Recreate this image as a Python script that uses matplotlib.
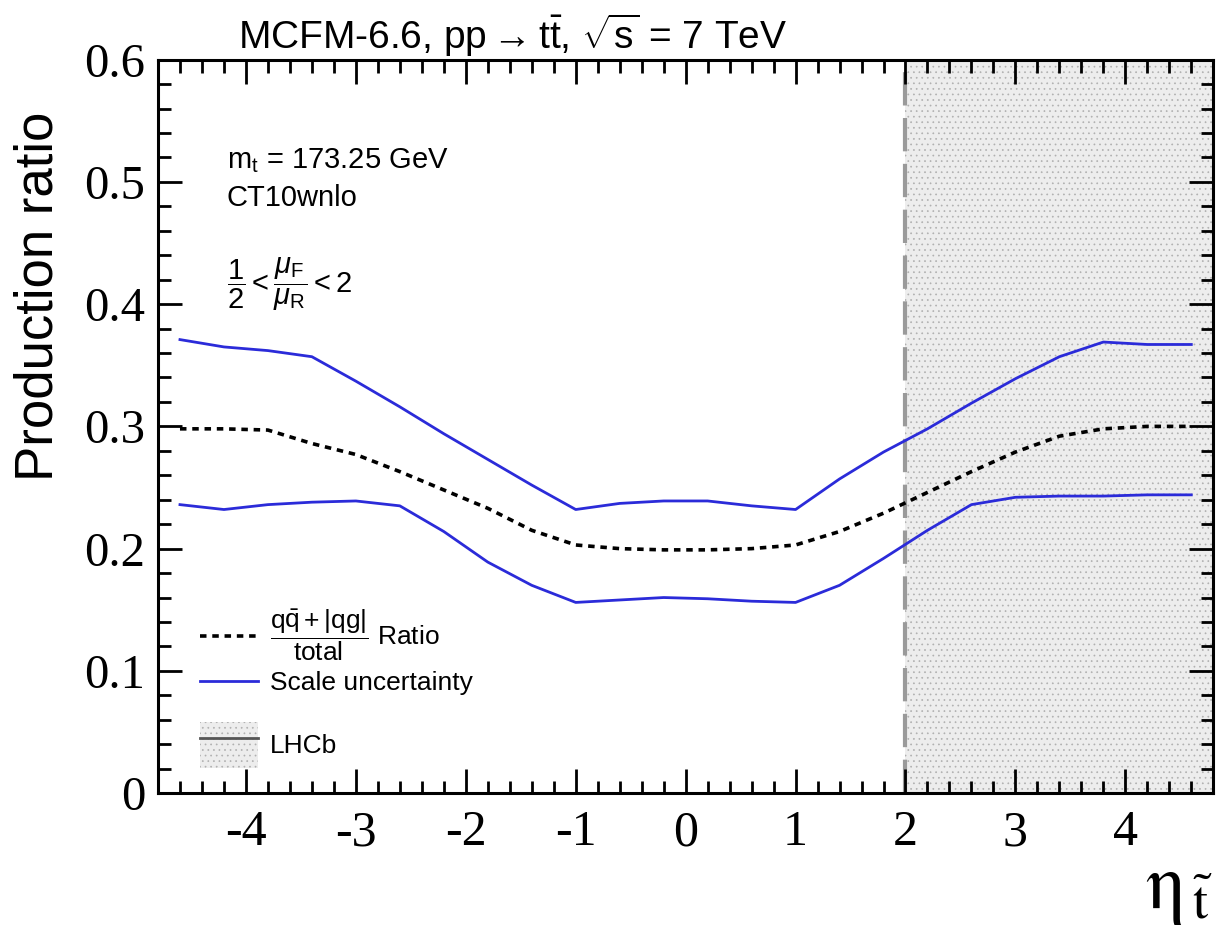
import matplotlib
matplotlib.use('Agg')
import matplotlib.pyplot as plt
from matplotlib.lines import Line2D
from matplotlib.patches import Patch
from matplotlib.legend_handler import HandlerTuple
from matplotlib.ticker import MultipleLocator

# values
eta = [-4.6, -4.2, -3.8, -3.4, -3.0, -2.6, -2.2, -1.8, -1.4, -1.0, -0.6, -0.2,
       0.2, 0.6, 1.0, 1.4, 1.8, 2.2, 2.6, 3.0, 3.4, 3.8, 4.2, 4.6]
ratio = [0.298, 0.298, 0.297, 0.286, 0.277, 0.263, 0.248, 0.233, 0.215, 0.203, 0.200, 0.199,
         0.199, 0.200, 0.203, 0.214, 0.229, 0.246, 0.263, 0.279, 0.292, 0.298, 0.300, 0.300]
scale_up = [0.371, 0.365, 0.362, 0.357, 0.337, 0.316, 0.294, 0.273, 0.252, 0.232, 0.237, 0.239,
            0.239, 0.235, 0.232, 0.257, 0.279, 0.298, 0.319, 0.339, 0.357, 0.369, 0.367, 0.367]
scale_down = [0.236, 0.232, 0.236, 0.238, 0.239, 0.235, 0.214, 0.189, 0.170, 0.156, 0.158, 0.160,
              0.159, 0.157, 0.156, 0.170, 0.192, 0.215, 0.236, 0.242, 0.243, 0.243, 0.244, 0.244]
lhcb_eta = [2.0, 4.8]

plt.rcParams['font.family'] = ['Liberation Sans', 'DejaVu Sans']
plt.rcParams['mathtext.fontset'] = 'custom'
plt.rcParams['mathtext.rm'] = 'Liberation Sans'
plt.rcParams['mathtext.it'] = 'Liberation Sans:italic'
plt.rcParams['mathtext.bf'] = 'Liberation Sans:bold'
plt.rcParams['hatch.linewidth'] = 0.5

blue = '#2b2bd9'

fig = plt.figure(figsize=(12.2, 9.32), dpi=100)
ax = fig.add_axes([0.1295, 0.149, 0.865, 0.787])

# LHCb acceptance band
ax.axvspan(lhcb_eta[0], lhcb_eta[1], facecolor='#ededed', edgecolor='#b0b0b0',
           hatch='...', lw=0, zorder=0)
ax.axvline(lhcb_eta[0], color='#9a9a9a', lw=3, ls=(0, (8, 3)), zorder=1)

ax.plot(eta, ratio, color='black', lw=2.6, ls=(0, (1.8, 1.6)), zorder=3)
ax.plot(eta, scale_up, color=blue, lw=2, zorder=3)
ax.plot(eta, scale_down, color=blue, lw=2, zorder=3)

ax.set_xlim(-4.8, 4.8)
ax.set_ylim(0, 0.6)
ax.xaxis.set_major_locator(MultipleLocator(1))
ax.xaxis.set_minor_locator(MultipleLocator(0.2))
ax.yaxis.set_major_locator(MultipleLocator(0.1))
ax.yaxis.set_minor_locator(MultipleLocator(0.02))
ax.tick_params(which='both', direction='in', top=True, right=True, width=2)
ax.tick_params(which='major', length=17)
ax.tick_params(which='minor', length=9)
ax.tick_params(axis='y', which='major', pad=9)
ax.tick_params(axis='x', which='major', pad=12)
for s in ax.spines.values():
    s.set_linewidth(2.2)

ax.set_xticks(range(-4, 5))
ax.set_xticklabels([str(v) for v in range(-4, 5)])
ax.set_yticks([0, 0.1, 0.2, 0.3, 0.4, 0.5, 0.6])
ax.set_yticklabels(['0', '0.1', '0.2', '0.3', '0.4', '0.5', '0.6'])
for lab in ax.get_xticklabels():
    lab.set_fontfamily('Liberation Serif')
    lab.set_fontsize(36)
for lab in ax.get_yticklabels():
    lab.set_fontfamily('Liberation Serif')
    lab.set_fontsize(35)

ax.set_ylabel('Production ratio', fontsize=38)
ax.yaxis.set_label_coords(-0.09, 0.677)
ax.set_xlabel(r'$\mathrm{\eta}_{\,\tilde{\mathrm{t}}}$', fontsize=56, math_fontfamily='stix',
              loc='right', labelpad=-2)

fig.text(0.42, 0.962, r'MCFM-6.6, pp$\rightarrow$t$\bar{\mathrm{t}}$, $\sqrt{\mathrm{s}}$ = 7 TeV',
         fontsize=28, ha='center', va='center')

ax.text(0.065, 0.863, r'm$_{\mathrm{t}}$ = 173.25 GeV', transform=ax.transAxes, fontsize=21, va='center')
ax.text(0.065, 0.812, 'CT10wnlo', transform=ax.transAxes, fontsize=21, va='center')
ax.text(0.065, 0.693, r'$\dfrac{1}{2} < \dfrac{\mu_{\mathrm{F}}}{\mu_{\mathrm{R}}} < 2$',
        transform=ax.transAxes, fontsize=21, va='center')

# legend: curves
h_ratio = Line2D([], [], color='black', lw=2.6, ls=(0, (1.8, 1.6)))
h_scale = Line2D([], [], color=blue, lw=2)
leg1 = ax.legend([h_ratio, h_scale],
                 [r'$\dfrac{\mathrm{q\bar{q}+|qg|}}{\mathrm{total}}$ Ratio', 'Scale uncertainty'],
                 loc='center left', bbox_to_anchor=(0.04, 0.193), frameon=False, fontsize=19,
                 handlelength=2.2, handletextpad=0.45, labelspacing=0.3,
                 borderpad=0, borderaxespad=0)
ax.add_artist(leg1)

# legend: LHCb band
h_lhcb = (Patch(facecolor='#ededed', edgecolor='#b0b0b0', hatch='...', lw=0),
          Line2D([], [], color='#555555', lw=2))
ax.legend([h_lhcb], ['LHCb'], handler_map={tuple: HandlerTuple(ndivide=1, pad=0)},
          loc='center left', bbox_to_anchor=(0.04, 0.0655), frameon=False, fontsize=19,
          handlelength=2.2, handleheight=2.3, handletextpad=0.45,
          borderpad=0, borderaxespad=0)

fig.savefig('out.png', dpi=100)
